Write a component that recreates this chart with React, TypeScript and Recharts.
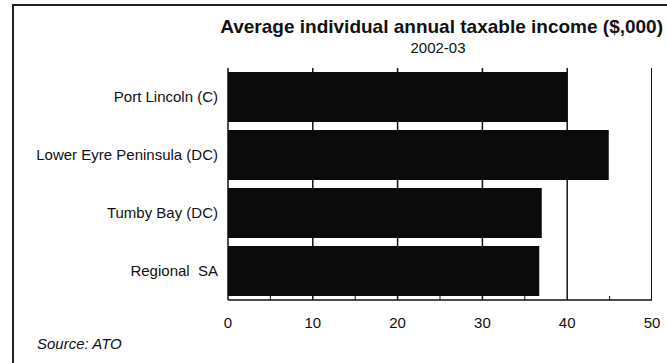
import { BarChart, Bar, XAxis, YAxis, CartesianGrid } from "recharts";

const regions = [
  "Port Lincoln (C)",
  "Lower Eyre Peninsula (DC)",
  "Tumby Bay (DC)",
  "Regional\u00a0 SA",
];
const income = [40.0, 44.9, 37.0, 36.7];
const xTicks = [0, 5, 10, 15, 20, 25, 30, 35, 40, 45, 50];
const gridValues = [10, 20, 30, 40];

const data = regions.map((name, i) => ({ name, income: income[i] }));

const font = '"Liberation Sans", Arial, sans-serif';
const W = 667;
const H = 363;
const M = { top: 68, right: 15, bottom: 0, left: 12 };
const X_AXIS_H = 63;
const PLOT_H = H - M.top - M.bottom - X_AXIS_H;

// bottom axis: minor ticks point up into the plot, labels only every 10
function BottomTick(props: any) {
  const { x, y, payload } = props;
  const v = payload.value;
  const major = v % 10 === 0;
  return (
    <g>
      {!major && <line x1={x} x2={x} y1={y} y2={y - 4} stroke="#111" />}
      {major && (
        <text
          x={x}
          y={y + 28}
          textAnchor="middle"
          fontSize={15}
          fill="#111"
          fontFamily={font}
        >
          {v}
        </text>
      )}
    </g>
  );
}

export default function App() {
  return (
    <div
      style={{
        position: "absolute",
        left: 0,
        top: 0,
        width: W,
        height: H,
        overflow: "hidden",
        background: "#fff",
        fontFamily: font,
      }}
    >
      <div style={{ position: "absolute", left: 0, top: 0 }}>
        <BarChart
          width={W}
          height={H}
          data={data}
          layout="vertical"
          margin={M}
          barSize={50}
        >
          <CartesianGrid
            horizontal={false}
            vertical
            verticalValues={gridValues}
            stroke="#111"
            strokeWidth={1.5}
          />
          <XAxis
            type="number"
            domain={[0, 50]}
            ticks={xTicks}
            interval={0}
            axisLine={{ stroke: "#111", strokeWidth: 1.5 }}
            tickLine={false}
            tickSize={0}
            tickMargin={0}
            tick={<BottomTick />}
            height={X_AXIS_H}
          />
          <YAxis
            type="category"
            dataKey="name"
            width={216}
            axisLine={{ stroke: "#111", strokeWidth: 1.5 }}
            tickLine={false}
            tickSize={0}
            tickMargin={10}
            tick={{ fontSize: 15, fill: "#111", fontFamily: font }}
          />
          <Bar dataKey="income" fill="#0b0b0b" isAnimationActive={false} />
        </BarChart>
      </div>
      {/* scanned frame: top and left edges */}
      <div
        style={{
          position: "absolute",
          left: 12,
          top: 4,
          width: 655,
          height: 359,
          borderTop: "2px solid #222",
          borderLeft: "2px solid #222",
          boxSizing: "border-box",
          pointerEvents: "none",
        }}
      />
      {/* right edge of the plot frame */}
      <div
        style={{
          position: "absolute",
          left: W - M.right - 1,
          top: M.top,
          width: 0,
          height: PLOT_H,
          borderLeft: "1.5px solid #111",
        }}
      />
      <div
        style={{
          position: "absolute",
          left: 197,
          width: 466,
          top: 16,
          textAlign: "right",
          fontSize: 19,
          fontWeight: "bold",
          color: "#111",
          whiteSpace: "nowrap",
        }}
      >
        Average individual annual taxable income ($,000)
      </div>
      <div
        style={{
          position: "absolute",
          left: 338,
          width: 200,
          top: 39,
          textAlign: "center",
          fontSize: 15,
          color: "#111",
        }}
      >
        2002-03
      </div>
      <div
        style={{
          position: "absolute",
          left: 37,
          top: 335,
          fontSize: 15,
          fontStyle: "italic",
          color: "#111",
        }}
      >
        Source: ATO
      </div>
    </div>
  );
}
